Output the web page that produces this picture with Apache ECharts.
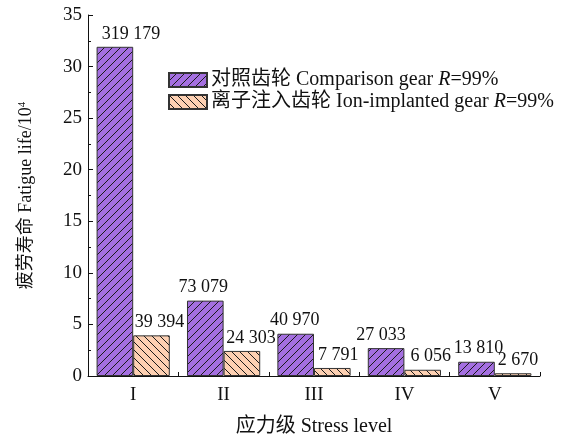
<!DOCTYPE html>
<html>
<head>
<meta charset="utf-8">
<script src="https://cdn.jsdelivr.net/npm/echarts@6/dist/echarts.min.js"></script>
<style>
html,body{margin:0;padding:0;background:#fff;}
#chart{width:561px;height:436px;}
</style>
</head>
<body>
<div id="chart"></div>
<script>
// Stress levels and fatigue lives (cycles)
var categories = ['I', 'II', 'III', 'IV', 'V'];
var comparisonLife = [319179, 73079, 40970, 27033, 13810];
var implantedLife = [39394, 24303, 7791, 6056, 2670];
var yTicks = [0, 5, 10, 15, 20, 25, 30, 35];
var seriesNames = ['对照齿轮 Comparison gear R=99%', '离子注入齿轮 Ion-implanted gear R=99%'];

// horizontal nudges for the value labels so neighbours do not collide
var comparisonLabelShift = [16, -2, -1, -5, 2];
var implantedLabelShift = [8, 9, 6, 8, 5];

var FONT = '"Liberation Serif", "Times New Roman", "Noto Sans CJK SC", serif';

// hatched fill: base colour plus diagonal lines
function hatch(base, forward) {
  var s = 8;
  var c = document.createElement('canvas');
  c.width = s; c.height = s;
  var g = c.getContext('2d');
  g.fillStyle = base;
  g.fillRect(0, 0, s, s);
  g.strokeStyle = '#1a1a1a';
  g.lineWidth = 1;
  g.beginPath();
  if (forward) {
    g.moveTo(-1, s + 1); g.lineTo(s + 1, -1);
    g.moveTo(-1, 1); g.lineTo(1, -1);
    g.moveTo(s - 1, s + 1); g.lineTo(s + 1, s - 1);
  } else {
    g.moveTo(-1, -1); g.lineTo(s + 1, s + 1);
    g.moveTo(s - 1, -1); g.lineTo(s + 1, 1);
    g.moveTo(-1, s - 1); g.lineTo(1, s + 1);
  }
  g.stroke();
  return { image: c, repeat: 'repeat' };
}

function fmt(v) {
  return String(v).replace(/\B(?=(\d{3})+(?!\d))/g, ' ');
}

function toBars(arr, shifts) {
  return arr.map(function (v, i) {
    return { value: v / 10000, raw: v, label: { offset: [shifts[i], 0] } };
  });
}

function barSeries(name, data, shifts, fill) {
  return {
    name: name,
    type: 'bar',
    data: toBars(data, shifts),
    barGap: '0%',
    barCategoryGap: '19%',
    itemStyle: { color: fill, borderColor: '#333', borderWidth: 1 },
    label: {
      show: true,
      position: 'top',
      distance: 4,
      fontFamily: FONT,
      fontSize: 18,
      color: '#111',
      formatter: function (p) { return fmt(p.data.raw); }
    }
  };
}

var chart = echarts.init(document.getElementById('chart'));
chart.setOption({
  animation: false,
  backgroundColor: '#fff',
  grid: { left: 88, right: 21, top: 15, bottom: 60, containLabel: false, outerBoundsMode: 'none' },
  legend: {
    orient: 'vertical',
    left: 168,
    top: 70,
    padding: 0,
    icon: 'rect',
    itemWidth: 38,
    itemHeight: 14,
    itemGap: 2,
    textStyle: {
      fontFamily: FONT,
      fontSize: 20,
      color: '#111',
      padding: [0, 0, 0, -1],
      rich: {
        t: { fontFamily: FONT, fontSize: 20, color: '#111' },
        i: { fontFamily: FONT, fontSize: 20, fontStyle: 'italic', color: '#111' }
      }
    },
    formatter: function (n) {
      var k = n.lastIndexOf('R=');
      return '{t|' + n.slice(0, k) + '}{i|R}{t|' + n.slice(k + 1) + '}';
    }
  },
  xAxis: {
    type: 'category',
    data: categories,
    name: '应力级 Stress level',
    nameLocation: 'middle',
    nameGap: 41,
    nameTextStyle: { fontFamily: FONT, fontSize: 20, color: '#111' },
    axisLine: { lineStyle: { color: '#111', width: 1 } },
    axisTick: { show: true, inside: true, length: 4, lineStyle: { color: '#111' } },
    axisLabel: { fontFamily: FONT, fontSize: 19, color: '#111', margin: 10 }
  },
  yAxis: {
    type: 'value',
    min: yTicks[0],
    max: yTicks[yTicks.length - 1],
    interval: yTicks[1] - yTicks[0],
    name: '{a|疲劳寿命 Fatigue life/10}{s|4}',
    nameLocation: 'middle',
    nameGap: 52,
    nameTextStyle: {
      fontFamily: FONT, fontSize: 18, color: '#111',
      rich: {
        a: { fontFamily: FONT, fontSize: 18, color: '#111' },
        s: { fontFamily: FONT, fontSize: 11, color: '#111', verticalAlign: 'top', padding: [0, 0, 8, 0] }
      }
    },
    axisLine: { show: true, lineStyle: { color: '#111', width: 1 } },
    axisTick: { show: true, inside: true, length: 5, lineStyle: { color: '#111' } },
    minorTick: { show: true, splitNumber: 2, length: 3, lineStyle: { color: '#111' } },
    splitLine: { show: false },
    axisLabel: { fontFamily: FONT, fontSize: 19, color: '#111', margin: 6 }
  },
  series: [
    barSeries(seriesNames[0], comparisonLife, comparisonLabelShift, hatch('#a46fe0', true)),
    barSeries(seriesNames[1], implantedLife, implantedLabelShift, hatch('#fdd0b2', false))
  ]
});
</script>
</body>
</html>
